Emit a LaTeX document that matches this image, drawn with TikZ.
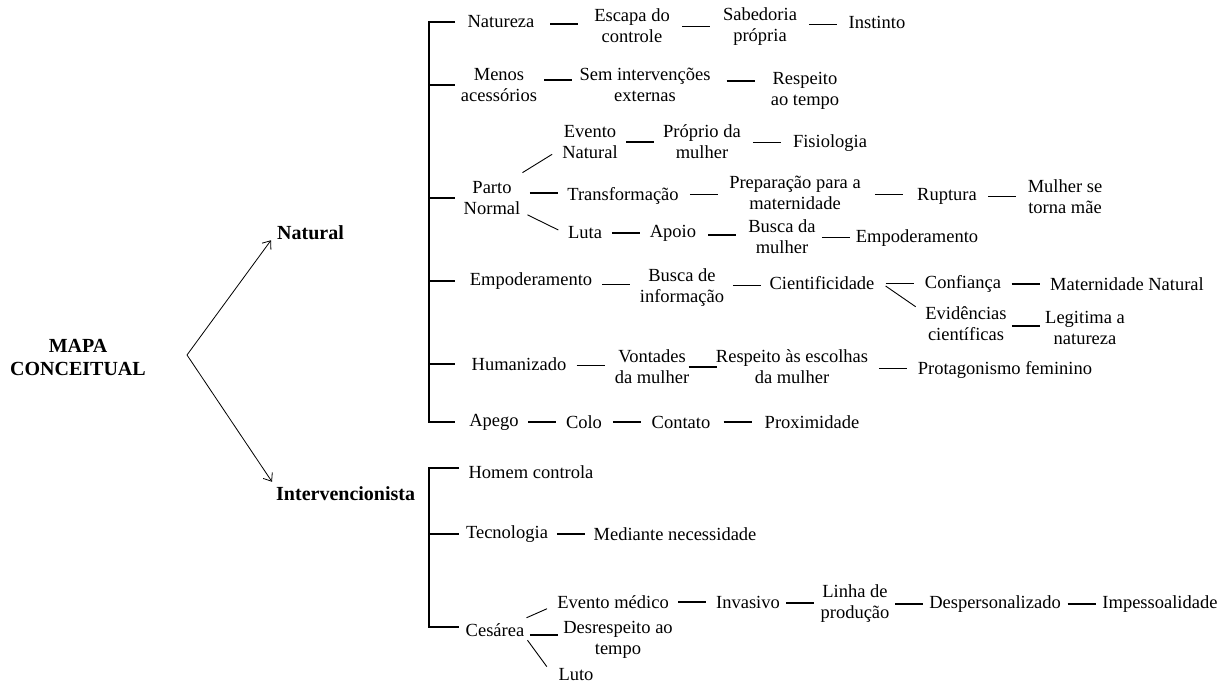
\documentclass[tikz,border=0pt]{standalone}
\usepackage{fontspec}
\setmainfont{Liberation Serif}
\usetikzlibrary{calc,arrows.meta}

% short dash centred between two nodes
\newcommand{\lnk}[3][0]{\draw[lnkline] ($(#2.east)!0.5!(#3.west)$) ++(-14,#1) -- ++(28,0);}

\begin{document}
\begin{tikzpicture}[x=1pt, y=-1pt,
  every node/.style={font=\fontsize{18.5}{21}\selectfont, align=center, inner sep=0pt},
  titulo/.style={font=\fontsize{20}{23}\selectfont\bfseries},
  lnkline/.style={line width=1.5pt},
  diag/.style={line width=0.9pt},
  seta/.style={line width=0.8pt, -{Straight Barb[length=7pt,width=11pt]}}]
  \useasboundingbox (0,0) rectangle (1227,684);

  % Raiz
  \node[titulo] (mapa) at (78,357) {MAPA\\CONCEITUAL};
  \coordinate (apex) at (187,355);
  \node[titulo, anchor=west] (natural) at (277,233) {Natural};
  \node[titulo, anchor=west] (interv) at (276,494) {Intervencionista};
  \draw[seta] (apex) -- ([xshift=-6pt]natural.south west);
  \draw[seta] (apex) -- ([shift={(-4pt,5pt)}]interv.north west);

  % Natural
  \node (natureza) at (501,22) {Natureza};
  \node (escapa) at (632,26) {Escapa do\\controle};
  \node (sabedoria) at (760,27) {Sabedoria\\própria};
  \node (instinto) at (877,22) {Instinto};
  \lnk{natureza}{escapa}
  \lnk{escapa}{sabedoria}
  \lnk{sabedoria}{instinto}

  \node (menos) at (499,85) {Menos\\acessórios};
  \node (semint) at (645,85) {Sem intervenções\\externas};
  \node (respeito) at (805,91) {Respeito\\ao tempo};
  \lnk[-5]{menos}{semint}
  \lnk[-7]{semint}{respeito}

  \node (parto) at (492,198) {Parto\\Normal};
  \node (eventoN) at (590,142) {Evento\\Natural};
  \node (proprio) at (702,142) {Próprio da\\mulher};
  \node (fisiologia) at (830,143) {Fisiologia};
  \node (transf) at (623,196) {Transformação};
  \node (preparacao) at (795,193) {Preparação para a\\maternidade};
  \node (ruptura) at (947,196) {Ruptura};
  \node (torna) at (1065,197) {Mulher se\\torna mãe};
  \node (luta) at (585,233) {Luta};
  \node (apoio) at (673,233) {Apoio};
  \node (buscamulher) at (782,237) {Busca da\\mulher};
  \node (empod2) at (917,238) {Empoderamento};
  \draw[diag] ([shift={(2pt,8.5pt)}]parto.north east) -- ([shift={(-10pt,4.5pt)}]eventoN.south west);
  \draw[diag] ([shift={(7pt,0pt)}]parto.south east) -- ([shift={(-9.5pt,3pt)}]luta.west);
  \lnk[-4]{parto}{transf}
  \lnk{eventoN}{proprio}
  \lnk{proprio}{fisiologia}
  \lnk{transf}{preparacao}
  \lnk{preparacao}{ruptura}
  \lnk{ruptura}{torna}
  \lnk{luta}{apoio}
  \lnk{apoio}{buscamulher}
  \lnk{buscamulher}{empod2}

  \node (empod) at (531,281) {Empoderamento};
  \node (buscainfo) at (682,288) {Busca de\\informação};
  \node (cientif) at (822,283) {Cientificidade};
  \node (confianca) at (963,284) {Confiança};
  \node (maternat) at (1127,284) {Maternidade Natural};
  \node (evidencias) at (966,324) {Evidências\\científicas};
  \node (legitima) at (1085,328) {Legitima a\\natureza};
  \lnk{empod}{buscainfo}
  \lnk{buscainfo}{cientif}
  \lnk{cientif}{confianca}
  \lnk{confianca}{maternat}
  \draw[diag] ([shift={(11pt,-3pt)}]cientif.east) -- ([shift={(-9.5pt,0pt)}]evidencias.north west);
  \lnk{evidencias}{legitima}

  \node (human) at (519,364) {Humanizado};
  \node (vontades) at (652,367) {Vontades\\da mulher};
  \node (respesc) at (792,367) {Respeito às escolhas\\da mulher};
  \node (protag) at (1005,370) {Protagonismo feminino};
  \lnk{human}{vontades}
  \lnk{vontades}{respesc}
  \lnk{respesc}{protag}

  \node (apego) at (494,422) {Apego};
  \node (colo) at (584,422) {Colo};
  \node (contato) at (681,422) {Contato};
  \node (proximidade) at (812,422) {Proximidade};
  \lnk{apego}{colo}
  \lnk{colo}{contato}
  \lnk{contato}{proximidade}

  \coordinate (spN) at (429,0);
  \coordinate (tkN) at (455,0);
  \draw[lnkline] (tkN |- natureza) -| (spN |- apego) -- (tkN |- apego);
  \foreach \n in {menos,parto,empod,human}
    \draw[lnkline] (spN |- \n) -- (tkN |- \n);

  % Intervencionista
  \node (homem) at (531,472) {Homem controla};
  \node (tecno) at (507,534) {Tecnologia};
  \node (mediante) at (675,534) {Mediante necessidade};
  \lnk{tecno}{mediante}

  \node (cesarea) at (495,630) {Cesárea};
  \node (eventoM) at (613,602) {Evento médico};
  \node (invasivo) at (748,602) {Invasivo};
  \node (linha) at (855,604) {Linha de\\produção};
  \node (despers) at (995,604) {Despersonalizado};
  \node (impess) at (1160,604) {Impessoalidade};
  \node (desresp) at (618,640) {Desrespeito ao\\tempo};
  \node (luto) at (576,675) {Luto};
  \draw[diag] ([shift={(2pt,5.5pt)}]cesarea.north east) -- ([shift={(-10pt,0pt)}]eventoM.south west);
  \draw[diag] ([shift={(3pt,-3.5pt)}]cesarea.south east) -- ([shift={(-11.5pt,2pt)}]luto.north west);
  \lnk{cesarea}{desresp}
  \lnk{eventoM}{invasivo}
  \lnk{invasivo}{linha}
  \lnk{linha}{despers}
  \lnk{despers}{impess}

  \coordinate (spI) at (429,0);
  \coordinate (tkI) at (459,0);
  \draw[lnkline] ([yshift=4pt]tkI |- homem) -| ([yshift=3pt]spI |- cesarea) -- ([yshift=3pt]tkI |- cesarea);
  \draw[lnkline] (spI |- tecno) -- (tkI |- tecno);
\end{tikzpicture}
\end{document}
